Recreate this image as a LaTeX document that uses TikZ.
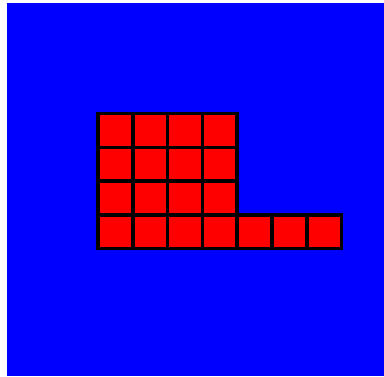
\documentclass[tikz,border=0pt]{standalone}
\usetikzlibrary{positioning}
\definecolor{bgblue}{RGB}{0,0,255}
\definecolor{cellred}{RGB}{255,0,0}
\tikzset{cellbox/.style={fill=cellred,draw=black,line width=3.5pt}}
\begin{document}
\begin{tikzpicture}[x=1pt,y=-1pt]
\useasboundingbox (0,0) rectangle (384,376);
\fill[white] (0,0) rectangle (384,376);
\fill[bgblue] (7,3) rectangle (384,376);
\foreach \r in {0,1,2}{
  \foreach \c in {0,1,2,3}{
    \draw[cellbox] ({98+34.8*\c},{113.5+33.75*\r}) rectangle ++(34.8,33.75);
  }
}
\foreach \c in {0,...,6}{
  \draw[cellbox] ({98+34.8*\c},{113.5+33.75*3}) rectangle ++(34.8,33.75);
}
\end{tikzpicture}
\end{document}
